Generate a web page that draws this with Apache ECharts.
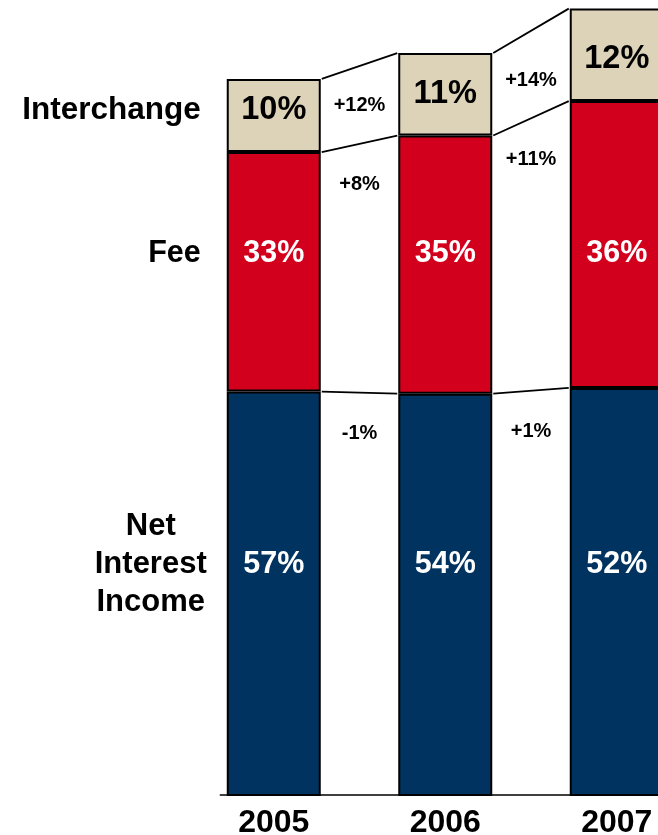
<!DOCTYPE html>
<html>
<head>
<meta charset="utf-8">
<script src="https://cdn.jsdelivr.net/npm/echarts@6/dist/echarts.min.js"></script>
<style>
  html, body { margin: 0; padding: 0; background: #fff; }
  #main { width: 658px; height: 835px; }
</style>
</head>
<body>
<div id="main"></div>
<script type="text/javascript">
// revenue mix, relative size (2005 total = 100)
var years = ['2005', '2006', '2007'];
var netInterest = [56.4, 56.1, 56.9];
var fee = [33.4, 36.0, 40.0];
var interchange = [10.2, 11.5, 12.9];

// labels as printed on the slide
var niiShare = ['57%', '54%', '52%'];
var feeShare = ['33%', '35%', '36%'];
var icShare = ['10%', '11%', '12%'];
var niiGrowth = ['-1%', '+1%'];
var feeGrowth = ['+8%', '+11%'];
var icGrowth = ['+12%', '+14%'];

var FONT = '"Liberation Sans", Arial, Helvetica, sans-serif';
var BAR_W = 94;
var C_NII = '#00335F', C_FEE = '#D3001D', C_IC = '#DDD3B8';

function stackTops(i) {
    return [netInterest[i], netInterest[i] + fee[i], netInterest[i] + fee[i] + interchange[i]];
}

function renderOverlay(params, api) {
    var i = api.value(0);
    var x = api.coord([i, 0])[0];
    var half = BAR_W / 2 + 1;
    var yOf = function (k, v) { return api.coord([k, v])[1]; };
    var t = stackTops(i);
    var t0 = stackTops(0);
    var kids = [];

    // rows for fee / net interest labels follow the 2005 bar
    var feeRow = yOf(0, t0[1]) + 0.42 * (yOf(0, t0[0]) - yOf(0, t0[1])) + 1;
    var niiRow = yOf(0, t0[0]) + 0.42 * (yOf(0, 0) - yOf(0, t0[0])) + 3;
    var icRow = yOf(i, t[1]) - 42;

    function txt(s, tx, ty, size, color, align, lh) {
        kids.push({
            type: 'text',
            style: {
                text: s, x: tx, y: ty, fill: color,
                font: 'bold ' + size + 'px ' + FONT,
                align: align || 'center', verticalAlign: 'middle',
                lineHeight: lh || size
            }
        });
    }

    txt(icShare[i], x, icRow, 32.5, '#000');
    txt(feeShare[i], x, feeRow, 30.5, '#fff');
    txt(niiShare[i], x, niiRow, 30.5, '#fff');

    if (i < years.length - 1) {
        var xn = api.coord([i + 1, 0])[0];
        var tn = stackTops(i + 1);
        for (var k = 0; k < 3; k++) {
            kids.push({
                type: 'line',
                shape: { x1: x + half, y1: yOf(i, t[k]), x2: xn - half, y2: yOf(i + 1, tn[k]) },
                style: { stroke: '#000', lineWidth: 1.8 }
            });
        }
        var gx = (x + xn) / 2;
        txt(icGrowth[i], gx, (yOf(i, t[1]) + yOf(i + 1, tn[1])) / 2 - 38, 20, '#000');
        txt(feeGrowth[i], gx, (yOf(i, t[1]) + yOf(i + 1, tn[1])) / 2 + 41, 20, '#000');
        txt(niiGrowth[i], gx, (yOf(i, t[0]) + yOf(i + 1, tn[0])) / 2 + 41, 20, '#000');
    }

    if (i === 0) {
        txt('Interchange', x - half - 25, icRow, 31.5, '#000', 'right');
        txt('Fee', x - half - 25, feeRow, 30.5, '#000', 'right');
        txt('Net\nInterest\nIncome', x - half - 75, niiRow, 31, '#000', 'center', 38);
        var by = yOf(0, 0) - 1;
        kids.push({
            type: 'line',
            shape: { x1: x - half - 6, y1: by, x2: x + 1000, y2: by },
            style: { stroke: '#000', lineWidth: 1.5 }
        });
    }
    return { type: 'group', children: kids };
}

var myChart = echarts.init(document.getElementById('main'));
var option = {
    backgroundColor: '#fff',
    animation: false,
    grid: { left: 188, top: 0, width: 514.5, height: 796, outerBoundsMode: 'none' },
    xAxis: {
        type: 'category',
        data: years,
        axisLine: { show: false },
        axisTick: { show: false },
        axisLabel: { margin: 11, color: '#000', fontSize: 32, fontWeight: 'bold', fontFamily: FONT }
    },
    yAxis: { type: 'value', min: 0, max: 111, show: false },
    series: [
        {
            name: 'Net Interest Income', type: 'bar', stack: 'mix', barWidth: BAR_W,
            itemStyle: { color: C_NII, borderColor: '#000', borderWidth: 2 },
            data: netInterest
        },
        {
            name: 'Fee', type: 'bar', stack: 'mix', barWidth: BAR_W,
            itemStyle: { color: C_FEE, borderColor: '#000', borderWidth: 2 },
            data: fee
        },
        {
            name: 'Interchange', type: 'bar', stack: 'mix', barWidth: BAR_W,
            itemStyle: { color: C_IC, borderColor: '#000', borderWidth: 2 },
            data: interchange
        },
        {
            name: 'overlay', type: 'custom', z: 10, silent: true,
            renderItem: renderOverlay,
            data: years.map(function (y, i) { return [i, 0]; })
        }
    ]
};
myChart.setOption(option);
</script>
</body>
</html>
